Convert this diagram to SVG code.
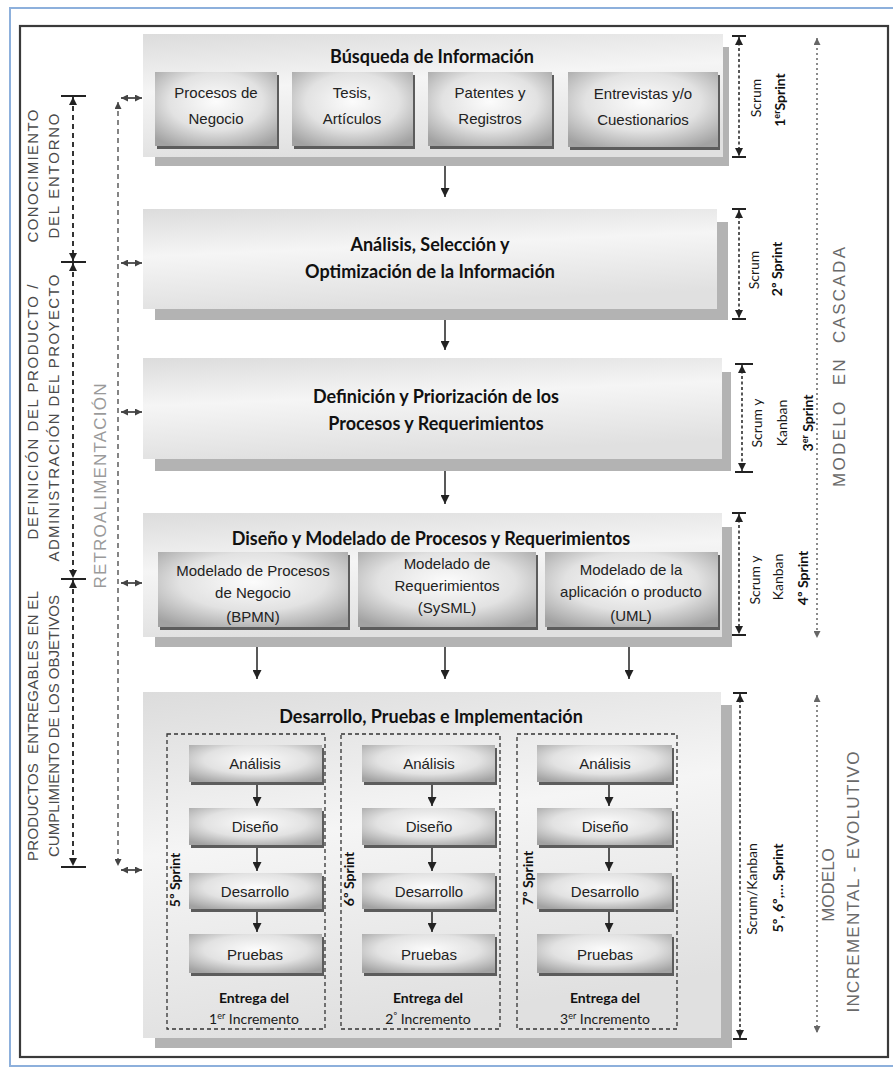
<svg xmlns="http://www.w3.org/2000/svg" width="893" height="1068" viewBox="0 0 893 1068">
<defs>
 <linearGradient id="gBig" x1="0" y1="0" x2="0.25" y2="1">
  <stop offset="0" stop-color="#dcdcdc"/>
  <stop offset="0.45" stop-color="#f5f5f5"/>
  <stop offset="1" stop-color="#e0e0e0"/>
 </linearGradient>
 <radialGradient id="gSub" cx="0.5" cy="0.4" r="0.7">
  <stop offset="0" stop-color="#fcfcfc"/>
  <stop offset="0.55" stop-color="#e2e2e2"/>
  <stop offset="1" stop-color="#a2a2a2"/>
 </radialGradient>
 <marker id="ah" markerUnits="userSpaceOnUse" viewBox="0 0 10 10" refX="10" refY="5" markerWidth="9" markerHeight="9" orient="auto"><path d="M0,0 L10,5 L0,10 z" fill="#222"/></marker>
 <marker id="as" markerUnits="userSpaceOnUse" viewBox="0 0 10 10" refX="10" refY="5" markerWidth="8" markerHeight="8" orient="auto-start-reverse"><path d="M0,0 L10,5 L0,10 z" fill="#222"/></marker>
 <marker id="ad" markerUnits="userSpaceOnUse" viewBox="0 0 10 10" refX="10" refY="5" markerWidth="7" markerHeight="7" orient="auto-start-reverse"><path d="M0,0 L10,5 L0,10 z" fill="#444"/></marker>
 <marker id="am" markerUnits="userSpaceOnUse" viewBox="0 0 10 10" refX="10" refY="5" markerWidth="7" markerHeight="7" orient="auto-start-reverse"><path d="M0,0 L10,5 L0,10 z" fill="#666"/></marker>
</defs>
<style>
 .big{fill:url(#gBig)}
 .shd{fill:#b3b3b3}
 .sub{fill:url(#gSub)}
 .subshd{fill:#5c5c5c}
 .t{font-family:Lato,'Open Sans',sans-serif;font-weight:700;fill:#111;text-anchor:middle;font-size:18px}
 .s{font-family:'Liberation Sans',Arial,sans-serif;fill:#222;text-anchor:middle;font-size:15px}
 .b{font-family:Lato,'Open Sans',sans-serif;font-weight:700;fill:#111;text-anchor:middle;font-size:14px}
 .r{font-family:Lato,'Open Sans',sans-serif;fill:#1a1a1a;text-anchor:middle;font-size:14px}
 .l{font-family:'Liberation Sans',Arial,sans-serif;fill:#4a4a4a;text-anchor:middle;font-size:15px}
 .m{font-family:'Liberation Sans',Arial,sans-serif;fill:#6a6a6a;text-anchor:middle;font-size:17px}
 .sup{font-size:9px}
 .cont{fill:none;stroke:#333;stroke-width:1.3;stroke-dasharray:4 3}
 .arr{fill:none;stroke:#222;stroke-width:1.5}
 .brk{fill:none;stroke:#222;stroke-width:1.5;stroke-dasharray:3 2.5}
 .cap{fill:none;stroke:#222;stroke-width:1.8}
 .lft{fill:none;stroke:#333;stroke-width:2;stroke-dasharray:5 4}
 .ret{fill:none;stroke:#444;stroke-width:1.3;stroke-dasharray:5 4}
 .mod{fill:none;stroke:#666;stroke-width:1.5;stroke-dasharray:2 3}
</style>

<rect x="10" y="8" width="886" height="1058" fill="#ffffff" stroke="#8db0dc" stroke-width="2"/>
<rect x="20" y="26" width="868" height="1031" fill="#ffffff" stroke="#3a3a3a" stroke-width="2.2"/>

<g id="box1">
 <rect class="shd" x="155" y="47" width="574" height="119"/>
 <rect class="big" x="143" y="34" width="580" height="123"/>
 <text class="t" x="432" y="63">Búsqueda de Información</text>
 <g id="box1a">
  <rect class="subshd" x="157" y="75" width="122" height="74"/>
  <rect class="sub" x="155" y="72" width="122" height="74"/>
  <text class="s" x="216" y="98">Procesos de</text>
  <text class="s" x="216" y="124">Negocio</text>
 </g>
 <g id="box1b">
  <rect class="subshd" x="294" y="75" width="121" height="74"/>
  <rect class="sub" x="292" y="72" width="121" height="74"/>
  <text class="s" x="352" y="98">Tesis,</text>
  <text class="s" x="352" y="124">Artículos</text>
 </g>
 <g id="box1c">
  <rect class="subshd" x="430" y="75" width="124" height="74"/>
  <rect class="sub" x="428" y="72" width="124" height="74"/>
  <text class="s" x="490" y="98">Patentes y</text>
  <text class="s" x="490" y="124">Registros</text>
 </g>
 <g id="box1d">
  <rect class="subshd" x="570" y="75" width="150" height="75"/>
  <rect class="sub" x="568" y="72" width="150" height="75"/>
  <text class="s" x="643" y="99">Entrevistas y/o</text>
  <text class="s" x="643" y="125">Cuestionarios</text>
 </g>
</g>

<g id="box2">
 <rect class="shd" x="155" y="222" width="573" height="98"/>
 <rect class="big" x="143" y="209" width="574" height="100"/>
 <text class="t" x="430" y="251">Análisis, Selección y</text>
 <text class="t" x="430" y="278">Optimización de la Información</text>
</g>

<g id="box3">
 <rect class="shd" x="155" y="372" width="576" height="99"/>
 <rect class="big" x="143" y="358" width="579" height="101"/>
 <text class="t" x="436" y="403">Definición y Priorización de los</text>
 <text class="t" x="436" y="430">Procesos y Requerimientos</text>
</g>

<g id="box4">
 <rect class="shd" x="155" y="527" width="577" height="120"/>
 <rect class="big" x="143" y="513" width="579" height="124"/>
 <text class="t" x="431" y="545">Diseño y Modelado de Procesos y Requerimientos</text>
 <g id="box4a">
  <rect class="subshd" x="160" y="555" width="190" height="75"/>
  <rect class="sub" x="158" y="552" width="190" height="75"/>
  <text class="s" x="253" y="576">Modelado de Procesos</text>
  <text class="s" x="253" y="598">de Negocio</text>
  <text class="s" x="253" y="622">(BPMN)</text>
 </g>
 <g id="box4b">
  <rect class="subshd" x="360" y="555" width="178" height="75"/>
  <rect class="sub" x="358" y="552" width="178" height="75"/>
  <text class="s" x="447" y="569">Modelado de</text>
  <text class="s" x="447" y="591">Requerimientos</text>
  <text class="s" x="447" y="613">(SySML)</text>
 </g>
 <g id="box4c">
  <rect class="subshd" x="547" y="555" width="173" height="75"/>
  <rect class="sub" x="545" y="552" width="173" height="75"/>
  <text class="s" x="631" y="575">Modelado de la</text>
  <text class="s" x="631" y="597">aplicación o producto</text>
  <text class="s" x="631" y="621">(UML)</text>
 </g>
</g>

<g id="box5">
 <rect class="shd" x="155" y="705" width="577" height="343"/>
 <rect class="big" x="143" y="692" width="578" height="346"/>
 <text class="t" x="431" y="723">Desarrollo, Pruebas e Implementación</text>
 <g id="inc1">
  <rect class="cont" x="167" y="734" width="158" height="295"/>
  <rect class="subshd" x="191" y="748" width="133" height="37"/><rect class="sub" x="189" y="745" width="133" height="37"/>
  <text class="s" x="255" y="769">Análisis</text>
  <rect class="subshd" x="191" y="811" width="133" height="37"/><rect class="sub" x="189" y="808" width="133" height="37"/>
  <text class="s" x="255" y="832">Diseño</text>
  <rect class="subshd" x="191" y="876" width="133" height="36"/><rect class="sub" x="189" y="873" width="133" height="36"/>
  <text class="s" x="255" y="897">Desarrollo</text>
  <rect class="subshd" x="191" y="937" width="133" height="39"/><rect class="sub" x="189" y="934" width="133" height="39"/>
  <text class="s" x="255" y="960">Pruebas</text>
  <text class="b" x="254" y="1003" font-size="13.5">Entrega del</text>
  <text class="r" x="254" y="1024" font-size="13.5">1<tspan class="sup" dy="-5">er</tspan><tspan dy="5"> Incremento</tspan></text>
  <text class="b" transform="translate(180,880) rotate(-90)" font-size="15.5">5º Sprint</text>
 </g>
 <g id="inc2">
  <rect class="cont" x="341" y="734" width="159" height="295"/>
  <rect class="subshd" x="364" y="748" width="133" height="37"/><rect class="sub" x="362" y="745" width="133" height="37"/>
  <text class="s" x="429" y="769">Análisis</text>
  <rect class="subshd" x="364" y="811" width="133" height="37"/><rect class="sub" x="362" y="808" width="133" height="37"/>
  <text class="s" x="429" y="832">Diseño</text>
  <rect class="subshd" x="364" y="876" width="133" height="36"/><rect class="sub" x="362" y="873" width="133" height="36"/>
  <text class="s" x="429" y="897">Desarrollo</text>
  <rect class="subshd" x="364" y="937" width="133" height="39"/><rect class="sub" x="362" y="934" width="133" height="39"/>
  <text class="s" x="429" y="960">Pruebas</text>
  <text class="b" x="428" y="1003" font-size="13.5">Entrega del</text>
  <text class="r" x="428" y="1024" font-size="13.5">2<tspan class="sup" dy="-5">º</tspan><tspan dy="5"> Incremento</tspan></text>
  <text class="b" transform="translate(354,879) rotate(-90)" font-size="15.5">6º Sprint</text>
 </g>
 <g id="inc3">
  <rect class="cont" x="517" y="734" width="160" height="295"/>
  <rect class="subshd" x="539" y="748" width="135" height="37"/><rect class="sub" x="537" y="745" width="135" height="37"/>
  <text class="s" x="605" y="769">Análisis</text>
  <rect class="subshd" x="539" y="811" width="135" height="37"/><rect class="sub" x="537" y="808" width="135" height="37"/>
  <text class="s" x="605" y="832">Diseño</text>
  <rect class="subshd" x="539" y="876" width="135" height="36"/><rect class="sub" x="537" y="873" width="135" height="36"/>
  <text class="s" x="605" y="897">Desarrollo</text>
  <rect class="subshd" x="539" y="937" width="135" height="39"/><rect class="sub" x="537" y="934" width="135" height="39"/>
  <text class="s" x="605" y="960">Pruebas</text>
  <text class="b" x="605" y="1003" font-size="13.5">Entrega del</text>
  <text class="r" x="605" y="1024" font-size="13.5">3<tspan class="sup" dy="-5">er</tspan><tspan dy="5"> Incremento</tspan></text>
  <text class="b" transform="translate(533,878) rotate(-90)" font-size="15.5">7º Sprint</text>
 </g>
</g>

<g id="labels-right">
 <text class="r" transform="translate(761,98) rotate(-90)" font-size="17">Scrum</text>
 <text class="b" transform="translate(785,100) rotate(-90)" font-size="15.5">1<tspan class="sup" dy="-5">er</tspan><tspan dy="5">Sprint</tspan></text>
 <text class="r" transform="translate(759,270) rotate(-90)" font-size="17">Scrum</text>
 <text class="b" transform="translate(782,269) rotate(-90)" font-size="15.5">2º Sprint</text>
 <text class="r" transform="translate(762,423) rotate(-90)" font-size="16">Scrum y</text>
 <text class="r" transform="translate(787,423) rotate(-90)" font-size="16">Kanban</text>
 <text class="b" transform="translate(813,423) rotate(-90)" font-size="15.5">3<tspan class="sup" dy="-5">er</tspan><tspan dy="5"> Sprint</tspan></text>
 <text class="r" transform="translate(760,580) rotate(-90)" font-size="16">Scrum y</text>
 <text class="r" transform="translate(783,577) rotate(-90)" font-size="16">Kanban</text>
 <text class="b" transform="translate(808,578) rotate(-90)" font-size="15.5">4º Sprint</text>
 <text class="r" transform="translate(757,889) rotate(-90)" font-size="16">Scrum/Kanban</text>
 <text class="b" transform="translate(783,888) rotate(-90)" font-size="15.5">5º, 6º,… Sprint</text>
 <text class="m" transform="translate(845,367) rotate(-90)" textLength="240" lengthAdjust="spacing" style="white-space:pre">MODELO  EN  CASCADA</text>
 <text class="m" transform="translate(834,885) rotate(-90)">MODELO</text>
 <text class="m" transform="translate(859,882) rotate(-90)" textLength="261" lengthAdjust="spacing">INCREMENTAL - EVOLUTIVO</text>
</g>

<g id="labels-left">
 <text class="l" transform="translate(38,176) rotate(-90)" textLength="133" lengthAdjust="spacing">CONOCIMIENTO</text>
 <text class="l" transform="translate(59,176) rotate(-90)" textLength="125" lengthAdjust="spacing">DEL ENTORNO</text>
 <text class="l" transform="translate(38,412) rotate(-90)" textLength="255" lengthAdjust="spacing">DEFINICIÓN DEL PRODUCTO /</text>
 <text class="l" transform="translate(59,418) rotate(-90)" textLength="287" lengthAdjust="spacing">ADMINISTRACIÓN DEL PROYECTO</text>
 <text class="l" transform="translate(38,726) rotate(-90)" textLength="270" lengthAdjust="spacing" style="white-space:pre">PRODUCTOS  ENTREGABLES EN EL</text>
 <text class="l" transform="translate(59,726) rotate(-90)" textLength="262" lengthAdjust="spacing">CUMPLIMIENTO DE LOS OBJETIVOS</text>
 <text class="m" transform="translate(106,486) rotate(-90)" font-size="19" style="fill:#9a9a9a" textLength="205" lengthAdjust="spacing">RETROALIMENTACIÓN</text>
</g>

<g id="connectors">
 <path class="arr" d="M445,166 V197" marker-end="url(#ah)"/>
 <path class="arr" d="M445,320 V350" marker-end="url(#ah)"/>
 <path class="arr" d="M445,471 V504" marker-end="url(#ah)"/>
 <path class="arr" d="M257,647 V679" marker-end="url(#ah)"/>
 <path class="arr" d="M445,647 V679" marker-end="url(#ah)"/>
 <path class="arr" d="M629,647 V679" marker-end="url(#ah)"/>
 <path class="arr" d="M257,785 V806" marker-end="url(#ah)"/>
 <path class="arr" d="M257,848 V871" marker-end="url(#ah)"/>
 <path class="arr" d="M257,912 V932" marker-end="url(#ah)"/>
 <path class="arr" d="M432,785 V806" marker-end="url(#ah)"/>
 <path class="arr" d="M432,848 V871" marker-end="url(#ah)"/>
 <path class="arr" d="M432,912 V932" marker-end="url(#ah)"/>
 <path class="arr" d="M609,785 V806" marker-end="url(#ah)"/>
 <path class="arr" d="M609,848 V871" marker-end="url(#ah)"/>
 <path class="arr" d="M609,912 V932" marker-end="url(#ah)"/>

 <path class="brk" d="M739,37 V156" marker-start="url(#as)" marker-end="url(#as)"/>
 <path class="cap" d="M732,36 H746 M732,157 H746"/>
 <path class="brk" d="M739,210 V318" marker-start="url(#as)" marker-end="url(#as)"/>
 <path class="cap" d="M732,209 H746 M732,319 H746"/>
 <path class="brk" d="M742,365 V471" marker-start="url(#as)" marker-end="url(#as)"/>
 <path class="cap" d="M735,364 H753 M735,472 H753"/>
 <path class="brk" d="M739,514 V634" marker-start="url(#as)" marker-end="url(#as)"/>
 <path class="cap" d="M732,513 H746 M732,635 H746"/>
 <path class="brk" d="M740,694 V1038" marker-start="url(#as)" marker-end="url(#as)"/>
 <path class="cap" d="M733,693 H747 M733,1039 H747"/>

 <path class="mod" d="M817,38 V638" marker-start="url(#am)" marker-end="url(#am)"/>
 <path class="mod" d="M817,695 V1033" marker-start="url(#am)" marker-end="url(#am)"/>

 <path class="lft" d="M73,97 V261" marker-start="url(#as)" marker-end="url(#as)"/>
 <path class="lft" d="M73,263 V578" marker-start="url(#as)" marker-end="url(#as)"/>
 <path class="lft" d="M73,580 V866" marker-start="url(#as)" marker-end="url(#as)"/>
 <path class="cap" d="M61,96 H86 M61,262 H86 M61,579 H86 M61,867 H86"/>

 <path class="ret" d="M118,102 V866" marker-start="url(#ad)" marker-end="url(#ad)"/>
 <path class="arr" d="M121,98 H142" stroke-width="1" marker-start="url(#ad)" marker-end="url(#ad)"/>
 <path class="arr" d="M121,263 H142" stroke-width="1" marker-start="url(#ad)" marker-end="url(#ad)"/>
 <path class="arr" d="M121,412 H142" stroke-width="1" marker-start="url(#ad)" marker-end="url(#ad)"/>
 <path class="arr" d="M121,583 H142" stroke-width="1" marker-start="url(#ad)" marker-end="url(#ad)"/>
 <path class="arr" d="M121,870 H142" stroke-width="1" marker-start="url(#ad)" marker-end="url(#ad)"/>
</g>
</svg>
